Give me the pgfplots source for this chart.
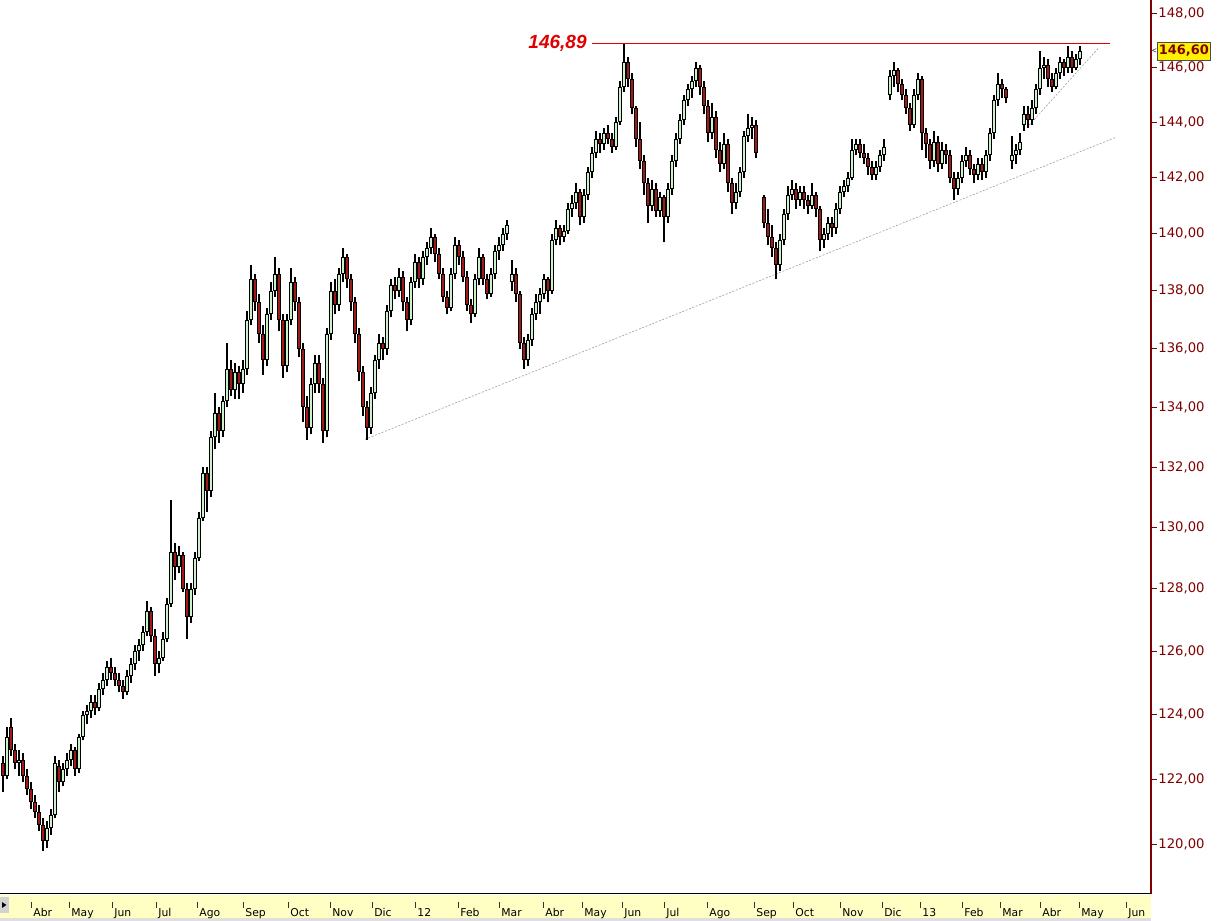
\documentclass[border=0pt]{standalone}
\usepackage{pgfplots}
\pgfplotsset{compat=1.18}
\usepackage{pgfplotstable}
\usepackage{fontspec}
\setmainfont{Liberation Sans}
\newfontfamily\tickfont{DejaVu Sans}
\newfontfamily\tickfontb{DejaVu Sans Bold}

\definecolor{axisred}{HTML}{800000}
\definecolor{upgreen}{HTML}{CCF2CC}
\definecolor{downred}{HTML}{A01818}
\definecolor{stripyellow}{HTML}{FFFFC4}
\definecolor{trendgray}{HTML}{9C9C9C}
\definecolor{levelred}{RGB}{224,0,0}

% x = bar position (chart pixels), o h l c = open high low close
\pgfplotstableread{
x o h l c
3 122.5 122.7 121.6 122.1
7 122.1 123.6 122.0 123.3
11 123.6 123.9 122.7 122.9
15 122.9 123.1 122.3 122.5
19 122.5 122.9 122.1 122.6
23 122.6 122.8 121.9 122.1
27 122.1 122.3 121.5 121.7
31 121.7 121.9 121.1 121.3
35 121.3 121.5 120.8 121.0
39 121.0 121.2 120.4 120.6
43 120.6 120.8 119.8 120.1
47 120.1 120.7 119.9 120.5
51 120.5 121.1 120.3 120.9
55 120.9 122.7 120.8 122.5
59 122.4 122.6 121.6 121.9
63 121.9 122.5 121.8 122.3
67 122.3 122.8 122.1 122.6
71 122.6 123.1 122.4 122.9
75 122.9 123.0 122.1 122.3
79 122.3 123.4 122.2 123.3
83 123.3 124.1 123.2 124.0
87 124.0 124.3 123.7 124.1
91 124.1 124.6 123.9 124.4
95 124.4 124.6 124.0 124.2
99 124.2 125.0 124.1 124.8
103 124.8 125.3 124.6 125.1
107 125.1 125.7 124.9 125.5
111 125.5 125.8 125.1 125.3
115 125.3 125.5 124.9 125.1
119 125.1 125.3 124.7 124.9
123 124.9 125.1 124.5 124.7
127 124.7 125.4 124.6 125.2
131 125.2 125.8 125.0 125.6
135 125.6 126.2 125.4 126.0
139 126.0 126.4 125.7 126.2
143 126.2 126.8 126.0 126.6
147 126.6 127.6 126.5 127.3
151 127.3 127.4 126.3 126.5
155 126.5 126.7 125.2 125.6
159 125.6 126.0 125.3 125.8
163 125.8 126.6 125.7 126.4
167 126.4 127.7 126.3 127.5
171 127.5 130.9 127.4 129.2
175 129.2 129.5 128.3 128.7
179 128.7 129.4 128.5 129.1
183 129.1 129.2 127.9 128.0
187 128.0 128.2 126.4 127.1
191 127.1 128.2 126.9 128.0
195 128.0 129.2 127.8 129.0
199 129.0 130.5 128.9 130.3
203 130.3 132.0 130.2 131.8
207 131.8 132.0 130.5 131.2
211 131.2 133.2 131.0 133.0
215 133.0 134.5 132.6 133.8
219 133.8 134.0 132.8 133.2
223 133.2 134.4 133.0 134.2
227 134.2 136.2 134.0 135.3
231 135.3 135.6 134.4 134.6
235 134.6 135.5 134.3 135.2
239 135.2 135.4 134.3 134.8
243 134.8 135.6 134.5 135.3
247 135.3 137.3 135.1 137.0
251 137.0 138.9 136.8 138.4
255 138.4 138.6 137.3 137.6
259 137.6 137.9 136.2 136.5
263 136.5 136.8 135.1 135.6
267 135.6 137.4 135.4 137.2
271 137.2 138.3 137.0 138.0
275 138.0 139.2 137.8 138.6
279 138.6 138.8 136.6 137.0
283 137.0 137.2 135.0 135.4
287 135.4 137.2 135.2 137.0
291 137.0 138.8 136.8 138.3
295 138.3 138.5 137.3 137.6
299 137.6 137.8 135.7 136.0
303 136.0 136.2 133.5 134.0
307 134.0 134.4 132.9 133.3
311 133.3 135.0 133.1 134.8
315 134.8 135.8 134.5 135.5
319 135.5 135.8 134.5 134.8
323 134.8 135.0 132.8 133.2
327 133.2 136.7 133.0 136.5
331 136.5 138.3 136.3 138.0
335 138.0 138.4 137.2 137.5
339 137.5 138.8 137.3 138.6
343 138.6 139.5 138.3 139.2
347 139.2 139.3 138.1 138.4
351 138.4 138.6 137.3 137.6
355 137.6 137.8 136.2 136.5
359 136.5 136.7 134.9 135.2
363 135.2 135.4 133.7 134.0
367 134.0 134.2 132.9 133.3
371 133.3 134.7 133.1 134.5
375 134.5 135.8 134.3 135.6
379 135.6 136.5 135.3 136.2
383 136.2 136.4 135.6 136.0
387 136.0 137.5 135.8 137.3
391 137.3 138.4 137.1 138.2
395 138.2 138.5 137.7 138.0
399 138.0 138.8 137.8 138.5
403 138.5 138.7 137.3 137.6
407 137.6 137.8 136.6 137.0
411 137.0 138.5 136.8 138.3
415 138.3 139.3 138.1 139.0
419 139.0 139.2 138.1 138.4
423 138.4 139.4 138.2 139.2
427 139.2 139.7 138.9 139.5
431 139.5 140.2 139.3 139.9
435 139.9 140.0 139.0 139.3
439 139.3 139.5 138.4 138.6
443 138.6 138.8 137.6 137.8
447 137.8 138.0 137.2 137.4
451 137.4 138.8 137.3 138.6
455 138.6 139.9 138.4 139.6
459 139.6 139.8 138.9 139.2
463 139.2 139.4 138.3 138.5
467 138.5 138.7 137.3 137.5
471 137.5 137.7 136.9 137.2
475 137.2 138.6 137.1 138.4
479 138.4 139.5 138.2 139.2
483 139.2 139.3 138.2 138.4
487 138.4 138.6 137.7 137.9
491 137.9 138.8 137.8 138.6
495 138.6 139.6 138.4 139.4
499 139.4 139.9 139.1 139.6
503 139.6 140.2 139.4 140.0
507 140.0 140.5 139.8 140.3
512 138.3 139.1 138.0 138.6
516 138.6 138.8 137.6 137.9
520 137.9 138.0 136.0 136.2
524 136.2 136.4 135.3 135.6
528 135.6 136.5 135.4 136.3
532 136.3 137.4 136.1 137.2
536 137.2 137.9 137.0 137.6
540 137.6 138.1 137.2 137.9
544 137.9 138.6 137.7 138.4
548 138.4 138.5 137.6 138.0
552 138.0 140.0 137.9 139.8
556 139.8 140.5 139.6 140.2
560 140.2 140.3 139.6 139.9
564 139.9 140.3 139.7 140.1
568 140.1 141.1 140.0 140.9
572 140.9 141.4 140.6 141.1
576 141.1 141.8 140.9 141.5
580 141.5 141.6 140.3 140.6
584 140.6 141.6 140.4 141.4
588 141.4 142.4 141.2 142.2
592 142.2 143.1 142.0 142.9
596 142.9 143.7 142.7 143.4
600 143.4 143.6 142.9 143.2
604 143.2 143.8 143.0 143.6
608 143.6 143.9 143.2 143.4
612 143.4 143.6 142.9 143.1
616 143.1 144.2 143.0 144.0
620 144.0 145.5 143.9 145.3
624 145.3 146.89 145.1 146.2
628 146.2 146.4 145.3 145.6
632 145.6 145.8 144.3 144.5
636 144.5 144.6 143.1 143.4
640 143.4 144.0 142.3 142.6
644 142.6 142.8 141.4 141.8
648 141.8 142.0 140.4 141.0
652 141.0 141.9 140.8 141.6
656 141.6 141.8 140.6 140.8
660 140.8 141.5 140.6 141.3
664 141.3 141.4 139.7 140.6
668 140.6 141.8 140.4 141.6
672 141.6 142.8 141.4 142.6
676 142.6 143.6 142.4 143.4
680 143.4 144.3 143.2 144.1
684 144.1 145.0 143.9 144.8
688 144.8 145.4 144.6 145.2
692 145.2 145.7 144.9 145.5
696 145.5 146.2 145.3 146.0
700 146.0 146.1 145.0 145.3
704 145.3 145.5 144.3 144.6
708 144.6 144.8 143.3 143.6
712 143.6 144.7 143.4 144.2
716 144.2 144.4 142.7 143.0
720 143.0 143.3 142.2 142.5
724 142.5 143.6 142.3 143.2
728 143.2 143.4 141.5 141.8
732 141.8 142.0 140.7 141.1
736 141.1 141.8 140.9 141.5
740 141.5 142.4 141.3 142.2
744 142.2 143.7 142.0 143.5
748 143.5 144.3 143.3 143.8
752 143.8 144.2 143.4 143.9
756 143.9 144.1 142.7 142.9
764 141.3 141.4 140.2 140.4
768 140.4 140.9 139.6 139.9
772 139.9 140.3 139.2 139.5
776 139.5 139.7 138.4 138.9
780 138.9 140.0 138.7 139.8
784 139.8 140.9 139.6 140.7
788 140.7 141.7 140.5 141.4
792 141.4 141.9 141.2 141.6
796 141.6 141.8 140.9 141.2
800 141.2 141.7 141.0 141.5
804 141.5 141.7 140.9 141.2
808 141.2 141.4 140.7 141.0
812 141.0 141.8 140.9 141.4
816 141.4 141.5 140.6 140.9
820 140.9 141.0 139.4 139.8
824 139.8 140.2 139.5 140.0
828 140.0 140.6 139.8 140.4
832 140.4 140.6 139.9 140.2
836 140.2 141.1 140.0 140.9
840 140.9 141.7 140.7 141.5
844 141.5 141.9 141.3 141.7
848 141.7 142.2 141.5 142.0
852 142.0 143.4 141.9 143.0
856 143.0 143.4 142.8 143.2
860 143.2 143.4 142.7 142.9
864 142.9 143.2 142.5 142.7
868 142.7 142.9 142.1 142.4
872 142.4 142.6 141.9 142.1
876 142.1 142.6 141.9 142.4
880 142.4 143.0 142.2 142.8
884 142.8 143.4 142.6 143.1
890 145.0 145.9 144.8 145.7
894 145.7 146.2 145.3 145.9
898 145.9 146.0 145.1 145.4
902 145.4 145.6 144.8 145.0
906 145.0 145.2 144.3 144.5
910 144.5 144.7 143.7 143.9
914 143.9 145.2 143.8 145.0
918 145.0 145.8 144.8 145.6
922 145.6 145.7 143.0 143.6
926 143.6 143.8 142.7 143.2
930 143.2 143.4 142.3 142.6
934 142.6 143.7 142.4 143.3
938 143.3 143.5 142.2 142.5
942 142.5 143.3 142.3 143.0
946 143.0 143.2 142.5 142.8
950 142.8 143.0 141.8 142.0
954 142.0 142.2 141.2 141.6
958 141.6 142.2 141.4 142.0
962 142.0 142.8 141.8 142.6
966 142.6 143.1 142.4 142.8
970 142.8 143.0 142.1 142.3
974 142.3 142.5 141.8 142.1
978 142.1 142.7 141.9 142.5
982 142.5 142.7 141.9 142.2
986 142.2 143.0 142.0 142.8
990 142.8 143.8 142.6 143.6
994 143.6 145.0 143.4 144.8
998 144.8 145.8 144.6 145.4
1002 145.4 145.6 144.9 145.2
1006 145.2 145.3 144.7 144.9
1012 142.6 143.5 142.3 142.8
1016 142.8 143.2 142.5 143.0
1020 143.0 143.6 142.8 143.3
1024 143.9 144.6 143.7 144.3
1028 144.3 144.6 143.8 144.1
1032 144.1 144.8 143.9 144.5
1036 144.5 145.4 144.3 145.2
1040 145.2 146.6 145.0 146.0
1044 146.0 146.4 145.6 146.1
1048 146.1 146.3 145.3 145.6
1052 145.6 145.8 145.1 145.3
1056 145.3 146.0 145.2 145.8
1060 145.8 146.4 145.6 146.2
1064 146.2 146.3 145.7 146.0
1068 146.0 146.8 145.8 146.4
1072 146.4 146.6 145.8 146.0
1076 146.0 146.5 145.9 146.3
1080 146.3 146.8 146.1 146.6
}\prices

\pgfplotsset{
  candle/.style={only marks, mark=none, mark size=0pt,
    mark options={draw=none, fill=none}, forget plot,
    error bars/y dir=plus, error bars/y explicit, error bars/error mark=none},
}

\begin{document}
\begin{tikzpicture}
% one reference pixel = 0.5pt
\useasboundingbox (0pt,0pt) rectangle (608.5pt,460.5pt);
% date strip under the chart
\fill[stripyellow] (0pt,1.5pt) rectangle (575.5pt,13pt);
\fill[gray!25] (0pt,0pt) rectangle (575.5pt,1.5pt);
\fill[gray!35] (0pt,4pt) rectangle (4.5pt,12pt);
\fill[black] (1pt,9.5pt) -- (3.2pt,8pt) -- (1pt,6.5pt) -- cycle;

\begin{axis}[
  at={(0pt,13.5pt)}, anchor=south west,
  scale only axis, width=575.5pt, height=447pt,
  xmin=0, xmax=1151,
  ymode=log, ymin=118.52, ymax=148.52,
  clip=false,
  axis x line*=bottom, axis y line*=right,
  x axis line style={black, line width=0.5pt},
  y axis line style={axisred, line width=0.55pt},
  tick align=outside, major tick length=3pt,
  xtick={31,69,112,156,197,243,288,330,372,415,458,499,543,582,622,664,707,754,793,840,882,920,962,1000,1040,1079,1126},
  xticklabels={Abr,May,Jun,Jul,Ago,Sep,Oct,Nov,Dic,12,Feb,Mar,Abr,May,Jun,Jul,Ago,Sep,Oct,Nov,Dic,13,Feb,Mar,Abr,May,Jun},
  xtick style={black!80, line width=0.35pt, yshift=-4pt},
  xticklabel shift=4.3pt,
  xticklabel style={anchor=north west, inner sep=0pt, xshift=1pt,
    font=\tickfont\fontsize{5.4}{5.4}\selectfont, text=black},
  ytick={120,122,124,126,128,130,132,134,136,138,140,142,144,146,148},
  yticklabels={{120,00},{122,00},{124,00},{126,00},{128,00},{130,00},{132,00},{134,00},{136,00},{138,00},{140,00},{142,00},{144,00},{146,00},{148,00}},
  ytick style={axisred, line width=0.4pt},
  yticklabel style={anchor=west, inner sep=0.5pt, text=axisred,
    font=\tickfont\fontsize{6.6}{6.6}\selectfont},
]

% trend lines
\addplot[draw=trendgray, line width=0.3pt, dash pattern=on 1pt off 0.8pt, mark=none, forget plot]
  coordinates {(365,132.92) (1115,143.44)};
\addplot[draw=trendgray, line width=0.3pt, dash pattern=on 1pt off 0.8pt, mark=none, forget plot]
  coordinates {(1027,143.8) (1099,146.75)};

% wicks
\addplot[candle, black, line width=0.8pt,
  error bars/error bar style={draw=black, solid, line width=0.8pt}]
  table[x=x, y=l, y error expr=\thisrow{h}-\thisrow{l}] {\prices};

% up bodies
\addplot[candle, black, line width=2.3pt,
  x filter/.expression={\thisrow{c}>\thisrow{o} ? x : nan},
  error bars/error bar style={draw=black, solid, line width=2.3pt}]
  table[x=x, y=o, y error expr=\thisrow{c}-\thisrow{o}] {\prices};
\addplot[candle, upgreen, line width=0.55pt,
  x filter/.expression={\thisrow{c}>\thisrow{o} ? x : nan},
  error bars/error bar style={draw=upgreen, solid, line width=0.55pt, shorten <=0.5pt, shorten >=0.5pt}]
  table[x=x, y=o, y error expr=\thisrow{c}-\thisrow{o}] {\prices};

% down bodies
\addplot[candle, black, line width=2.3pt,
  x filter/.expression={\thisrow{c}<\thisrow{o} ? x : nan},
  error bars/error bar style={draw=black, solid, line width=2.3pt}]
  table[x=x, y=c, y error expr=\thisrow{o}-\thisrow{c}] {\prices};
\addplot[candle, downred, line width=0.55pt,
  x filter/.expression={\thisrow{c}<\thisrow{o} ? x : nan},
  error bars/error bar style={draw=downred, solid, line width=0.55pt, shorten <=0.5pt, shorten >=0.5pt}]
  table[x=x, y=c, y error expr=\thisrow{o}-\thisrow{c}] {\prices};

% resistance level at the June 2012 high
\addplot[draw=levelred, solid, line width=0.9pt, mark=none, forget plot]
  coordinates {(592,146.89) (1110,146.89)};
\draw[draw=levelred, line width=0.9pt] (axis cs:592,146.89) -- (axis cs:1110,146.89);

% labels
\node[anchor=east, inner sep=0pt, text=levelred,
  font=\bfseries\itshape\fontsize{9.5}{9.5}\selectfont]
  at (axis cs:587,146.89) {146,89};
\node[anchor=west, inner sep=0.75pt, minimum height=9pt, fill=yellow, draw=black!70,
  line width=0.3pt, text=axisred, font=\tickfontb\fontsize{6.5}{6.5}\selectfont]
  at (axis cs:1157,146.62) {146,60};
\node[anchor=center, inner sep=0pt, font=\fontsize{4}{4}\selectfont]
  at (axis cs:1154.5,146.62) {<};
\end{axis}
\end{tikzpicture}
\end{document}
